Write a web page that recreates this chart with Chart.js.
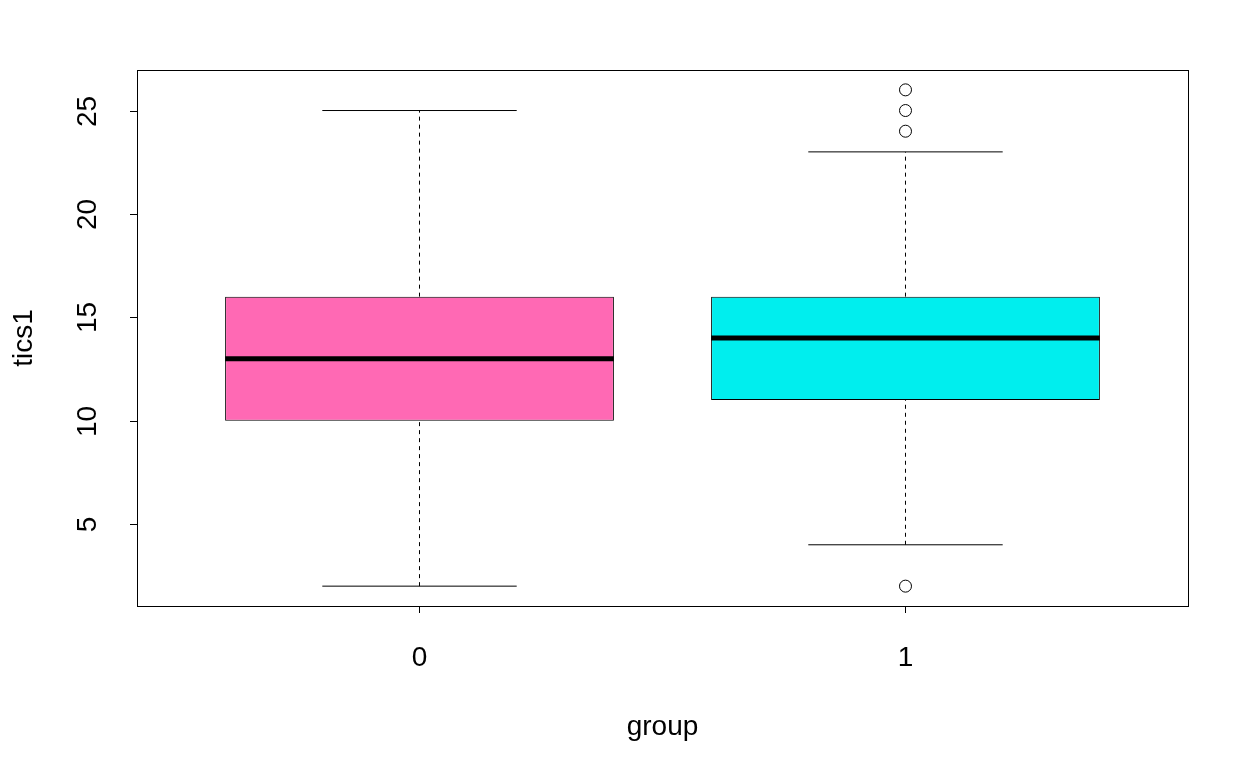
<!DOCTYPE html>
<html>
<head>
<meta charset="utf-8">
<script src="https://cdn.jsdelivr.net/npm/chart.js@4.4.1/dist/chart.umd.min.js"></script>
<style>
  html, body { margin: 0; padding: 0; background: #ffffff; }
  #wrap { width: 1259px; height: 778px; }
</style>
</head>
<body>
<div id="wrap"><canvas id="box" width="1259" height="778"></canvas></div>
<script>
// Datos del boxplot
const groups = ["0", "1"];
const q1 = [10, 11];
const medians = [13, 14];
const q3 = [16, 16];
const whiskerLow = [2, 4];
const whiskerHigh = [25, 23];
const outliers = [[], [2, 24, 25, 26]];
const boxColors = ["#FF69B4", "#00EEEE"];

const yTicks = [5, 10, 15, 20, 25];
const xTitle = "group";
const yTitle = "tics1";

const FONT = "28px 'Liberation Sans', Arial, sans-serif";

// posiciones en x: 1, 2, ...
const xPos = groups.map((g, i) => i + 1);

function seg(x0, y0, x1, y1, extra) {
  return Object.assign({
    type: "scatter",
    showLine: true,
    data: [{ x: x0, y: y0 }, { x: x1, y: y1 }],
    borderColor: "#000000",
    borderWidth: 1,
    pointRadius: 0,
    pointHoverRadius: 0,
    fill: false,
    order: 5,
  }, extra || {});
}

const datasets = [];

datasets.push({
  type: "bar",
  data: xPos.map((x, i) => ({ x: x, y: [q1[i], q3[i]] })),
  backgroundColor: boxColors,
  borderColor: "#000000",
  borderWidth: 1,
  borderSkipped: false,
  barPercentage: 0.8,
  categoryPercentage: 1.0,
  order: 10,
});

xPos.forEach((x, i) => {
  // bigotes
  datasets.push(seg(x, whiskerLow[i], x, q1[i], { borderDash: [4, 4] }));
  datasets.push(seg(x, q3[i], x, whiskerHigh[i], { borderDash: [4, 4] }));
  // topes
  datasets.push(seg(x - 0.2, whiskerLow[i], x + 0.2, whiskerLow[i]));
  datasets.push(seg(x - 0.2, whiskerHigh[i], x + 0.2, whiskerHigh[i]));
  // mediana
  datasets.push(seg(x - 0.4, medians[i], x + 0.4, medians[i], { borderWidth: 5, order: 1, borderCapStyle: "butt" }));
});

datasets.push({
  type: "scatter",
  data: outliers.flatMap((vals, i) => vals.map((v) => ({ x: xPos[i], y: v }))),
  pointStyle: "circle",
  pointRadius: 6,
  pointHoverRadius: 6,
  pointBackgroundColor: "#ffffff",
  pointBorderColor: "#000000",
  pointBorderWidth: 1,
  order: 0,
});

// ejes al estilo de R base
const rAxes = {
  id: "rAxes",
  afterDraw(chart) {
    const ctx = chart.ctx;
    const a = chart.chartArea;
    const xs = chart.scales.x;
    const ys = chart.scales.y;
    ctx.save();
    ctx.strokeStyle = "#000000";
    ctx.lineWidth = 1;
    ctx.strokeRect(Math.round(a.left) + 0.5, Math.round(a.top) + 0.5,
      Math.round(a.right - a.left), Math.round(a.bottom - a.top));

    ctx.fillStyle = "#000000";
    ctx.font = FONT;

    // eje y
    yTicks.forEach((v) => {
      const py = Math.round(ys.getPixelForValue(v)) + 0.5;
      ctx.beginPath();
      ctx.moveTo(a.left - 7, py);
      ctx.lineTo(a.left, py);
      ctx.stroke();
      ctx.save();
      ctx.translate(a.left - 41, py);
      ctx.rotate(-Math.PI / 2);
      ctx.textAlign = "center";
      ctx.textBaseline = "alphabetic";
      ctx.fillText(String(v), 0, 0);
      ctx.restore();
    });

    // eje x
    xPos.forEach((x, i) => {
      const px = Math.floor(xs.getPixelForValue(x)) + 0.5;
      ctx.beginPath();
      ctx.moveTo(px, a.bottom);
      ctx.lineTo(px, a.bottom + 7);
      ctx.stroke();
      ctx.textAlign = "center";
      ctx.textBaseline = "alphabetic";
      ctx.fillText(groups[i], px, a.bottom + 60);
    });

    // títulos
    ctx.textAlign = "center";
    ctx.textBaseline = "alphabetic";
    ctx.fillText(xTitle, (a.left + a.right) / 2, a.bottom + 129);
    ctx.save();
    ctx.translate(32, (a.top + a.bottom) / 2);
    ctx.rotate(-Math.PI / 2);
    ctx.fillText(yTitle, 0, 0);
    ctx.restore();
    ctx.restore();
  },
};

new Chart(document.getElementById("box").getContext("2d"), {
  data: { datasets: datasets },
  options: {
    responsive: false,
    animation: false,
    layout: { padding: { left: 137, right: 71, top: 70, bottom: 172 } },
    plugins: { legend: { display: false }, tooltip: { enabled: false } },
    scales: {
      x: {
        type: "linear",
        min: 0.4187,
        max: 2.5813,
        offset: false,
        display: false,
        // una marca por grupo, así el ancho de las cajas sale del espaciado entre grupos
        afterBuildTicks: (scale) => { scale.ticks = xPos.map((v) => ({ value: v })); },
      },
      y: { type: "linear", min: 1.04, max: 26.96, display: false },
    },
  },
  plugins: [rAxes],
});
</script>
</body>
</html>
